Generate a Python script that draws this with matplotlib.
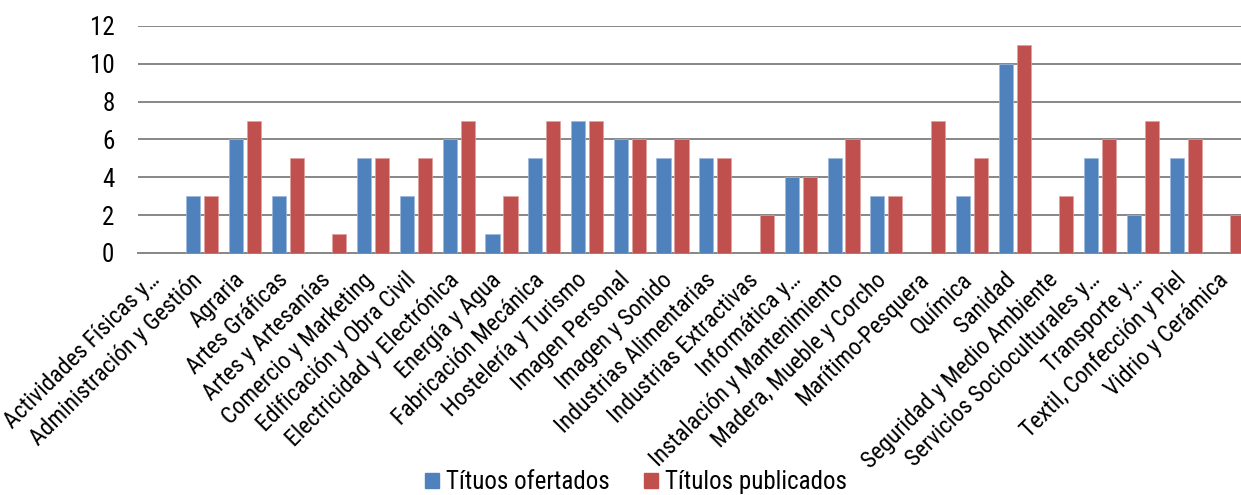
import numpy as np
import matplotlib
matplotlib.use('Agg')
import matplotlib.pyplot as plt
from matplotlib.patches import Patch
from matplotlib import font_manager as fm
import matplotlib.transforms as mtransforms

# ==========================================
# 데이터
# ==========================================
categories = [
    'Actividades Físicas y…', 'Administración y Gestión', 'Agraria', 'Artes Gráficas',
    'Artes y Artesanías', 'Comercio y Marketing', 'Edificación y Obra Civil',
    'Electricidad y Electrónica', 'Energía y Agua', 'Fabricación Mecánica',
    'Hostelería y Turismo', 'Imagen Personal', 'Imagen y Sonido',
    'Industrias Alimentarias', 'Industrias Extractivas', 'Informática y…',
    'Instalación y Mantenimiento', 'Madera, Mueble y Corcho', 'Marítimo-Pesquera',
    'Química', 'Sanidad', 'Seguridad y Medio Ambiente', 'Servicios Socioculturales y…',
    'Transporte y…', 'Textil, Confección y Piel', 'Vidrio y Cerámica',
]
ofertados = [0, 3, 6, 3, 0, 5, 3, 6, 1, 5, 7, 6, 5, 5, 0, 4, 5, 3, 0, 3, 10, 0, 5, 2, 5, 0]
publicados = [0, 3, 7, 5, 1, 5, 5, 7, 3, 7, 7, 6, 6, 5, 2, 4, 6, 3, 7, 5, 11, 3, 6, 7, 6, 2]
series_names = ['Títuos ofertados', 'Títulos publicados']
yticks = [0, 2, 4, 6, 8, 10, 12]

BLUE = '#4F81BD'
RED = '#C0504D'
GRID = '#878787'

# 원본은 Arial Narrow 계열 -> 설치된 좁은 글꼴 찾기
installed = {f.name for f in fm.fontManager.ttflist}
narrow = None
for cand in ['Liberation Sans Narrow', 'Arial Narrow', 'Roboto Condensed',
             'Noto Sans Condensed', 'Open Sans Condensed', 'DejaVu Sans Condensed']:
    if cand in installed:
        narrow = cand
        break
if narrow is None:
    # family 이름은 같고 stretch 만 condensed 인 경우
    for f in fm.fontManager.ttflist:
        if f.name in ('DejaVu Sans', 'Noto Sans', 'Roboto') and f.stretch in ('condensed', 'semi-condensed', 'semi-expanded') and f.weight in (400, 'normal'):
            narrow = f.name
            plt.rcParams['font.stretch'] = 'condensed'
            break

if narrow is not None:
    plt.rcParams['font.family'] = [narrow, 'Liberation Sans', 'DejaVu Sans']
    FS, XFS = 18, 17
else:
    plt.rcParams['font.family'] = ['Liberation Sans', 'DejaVu Sans']
    FS, XFS = 15.5, 15
plt.rcParams['font.size'] = FS

# ==========================================
# 그림
# ==========================================
fig = plt.figure(figsize=(12.41, 4.95), dpi=100)
# 원본은 오른쪽 끝이 잘려 있음 -> 축이 그림 밖으로 조금 나감
ax = fig.add_axes([0.1112, 0.4889, 0.8959, 0.4586])

x = np.arange(len(categories))
w = 0.33
ax.bar(x - 0.21, ofertados, w, color=BLUE, edgecolor='#9DB9DD', linewidth=0.5, zorder=3)
ax.bar(x + 0.21, publicados, w, color=RED, edgecolor='#E0A09E', linewidth=0.5, zorder=3)

ax.set_xlim(-0.5, len(categories) - 0.5)
ax.set_ylim(0, 12)
ax.set_yticks(yticks)
ax.yaxis.grid(True, color=GRID, linewidth=1.4, zorder=0)
ax.set_axisbelow(True)

for s in ['left', 'right', 'top']:
    ax.spines[s].set_visible(False)
ax.spines['bottom'].set_color(GRID)
ax.spines['bottom'].set_linewidth(1.4)

ax.tick_params(axis='y', length=0, pad=17)
ax.tick_params(axis='x', length=0, pad=11)
ax.set_xticks(x)
ax.set_xticklabels(categories, rotation=45, ha='right', va='top', fontsize=XFS)
# 라벨을 오른쪽으로 약간 이동
shift = mtransforms.ScaledTranslation(5 / 100, 0, fig.dpi_scale_trans)
for lab in ax.get_xticklabels():
    lab.set_transform(lab.get_transform() + shift)

handles = [Patch(color=BLUE), Patch(color=RED)]
fig.legend(handles, series_names, loc='center', bbox_to_anchor=(0.5125, 0.026),
           ncol=2, frameon=False, handlelength=0.56, handleheight=0.56,
           handletextpad=0.25, columnspacing=1.4, borderpad=0)

plt.savefig('out.png', dpi=100)
plt.close()
